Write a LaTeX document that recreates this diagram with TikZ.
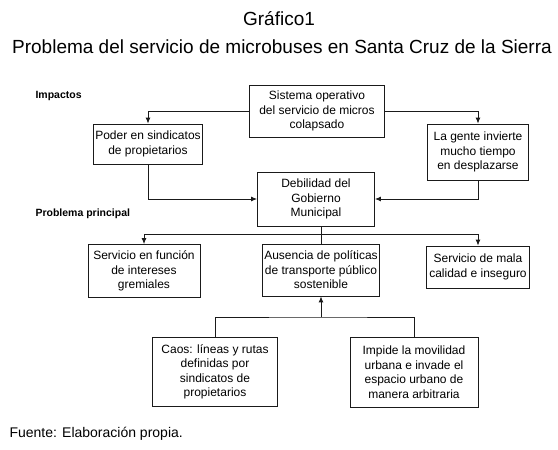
\documentclass[tikz,border=0pt]{standalone}
\usepackage{fontspec}
\setmainfont{Liberation Sans}
\usetikzlibrary{arrows.meta, positioning, calc}
\definecolor{Ink}{HTML}{1a1a1a}
\definecolor{Paper}{HTML}{ffffff}
\newcommand{\boxfont}{\fontsize{12}{14.5}\selectfont}
\newcommand{\tagfont}{\fontsize{10.5}{12}\selectfont\bfseries}

\begin{document}
\begin{tikzpicture}[x=1pt, y=-1pt,
    cell/.style={draw=Ink, fill=Paper, line width=0.8pt, align=center, inner sep=0pt, font=\boxfont},
    link/.style={draw=Ink, line width=0.9pt},
    tip/.style={link, -{Latex[length=6pt, width=5pt]}}]
            \useasboundingbox[fill=Paper] (0, 0) rectangle (558, 450);

            % Titles
            \node[font=\fontsize{19}{22}\selectfont] (head) at (279, 19) {Gráfico1};
            \node[font=\fontsize{19}{22}\selectfont] (title) at (282, 47) {Problema del servicio de microbuses en Santa Cruz de la Sierra};

            % Impactos
            \node[anchor=west, font=\tagfont] (lblimp) at (32, 96) {Impactos};
            \node[cell, minimum width=135pt, minimum height=52pt] (sistema) at (317, 111) {Sistema operativo\\del servicio de micros\\colapsado};
            \node[cell, minimum width=109pt, minimum height=40pt] (poder) at (148, 144) {Poder en sindicatos\\de propietarios};
            \node[cell, minimum width=101pt, minimum height=56pt] (gente) at (478, 152) {La gente invierte\\mucho tiempo\\en desplazarse};
            \node[cell, minimum width=117pt, minimum height=54pt] (debil) at (316, 199) {Debilidad del\\Gobierno\\Municipal};
            \draw[tip] (sistema.west) -| (poder.north);
            \draw[tip] (sistema.east) -| (gente.north);
            \draw[tip] (poder.south) |- (debil.west);
            \draw[tip] (gente.south) |- (debil.east);

            % Problema principal
            \node[anchor=west, font=\tagfont] (lblprob) at (32, 214) {Problema principal};
            \node[cell, minimum width=112pt, minimum height=53pt] (funcion) at (144, 271) {Servicio en función\\de intereses\\gremiales};
            \node[cell, minimum width=117pt, minimum height=52pt] (ausencia) at (321, 270) {Ausencia de políticas\\de transporte público\\sostenible};
            \node[cell, minimum width=103pt, minimum height=42pt] (mala) at (478, 267) {Servicio de mala\\calidad e inseguro};
            \coordinate (split) at (321, 234);
            \draw[link] (split |- debil.south) -- (ausencia.north);
            \draw[tip] (split) -| (funcion.north);
            \draw[tip] (split) -| (mala.north);

            % Causas
            \node[cell, minimum width=125pt, minimum height=69pt] (caos) at (215, 372) {Caos: líneas y rutas\\definidas por\\sindicatos de\\propietarios};
            \node[cell, minimum width=128pt, minimum height=70pt] (impide) at (414, 372) {Impide la movilidad\\urbana e invade el\\espacio urbano de\\manera arbitraria};
            \coordinate (join) at (321, 317);
            \draw[link] (caos.north) |- (join) -| (impide.north);
            \draw[tip] (join) -- (ausencia.south);

            % Fuente
            \node[anchor=west, font=\fontsize{14}{16}\selectfont] (fuente) at (6, 434) {Fuente: Elaboración propia.};
        \end{tikzpicture}
\end{document}
